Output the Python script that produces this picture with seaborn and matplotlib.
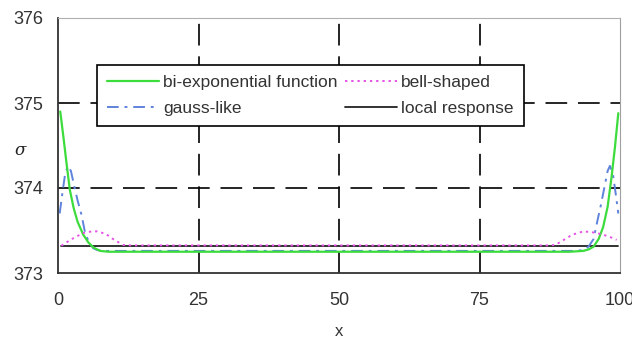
import numpy as np
import pandas as pd
import matplotlib
matplotlib.use("Agg")
import matplotlib.pyplot as plt
import seaborn as sns

# --- values ---
x_biexp = [0.4, 1.0, 1.5, 2.1, 2.8, 3.5, 4.5, 5.4, 6.3, 7.5, 9.0, 12.0, 50.0,
           88.0, 91.0, 93.5, 94.5, 95.3, 96.2, 97.0, 97.8, 98.5, 99.1, 99.7]
y_biexp = [374.90, 374.58, 374.30, 373.98, 373.76, 373.60, 373.45, 373.36, 373.30, 373.26, 373.25, 373.25, 373.25,
           373.25, 373.25, 373.26, 373.28, 373.31, 373.40, 373.54, 373.78, 374.13, 374.48, 374.88]

x_gauss = [0.3, 0.8, 1.3, 1.8, 2.3, 2.9, 3.5, 4.2, 4.8, 5.5, 6.3, 7.0, 8.0, 12.0, 50.0,
           88.0, 92.0, 93.5, 94.4, 95.3, 96.0, 96.6, 97.2, 97.8, 98.2, 98.7, 99.2, 99.7]
y_gauss = [373.70, 373.95, 374.18, 374.26, 374.20, 374.02, 373.85, 373.68, 373.48, 373.36, 373.29, 373.27, 373.26, 373.26, 373.26,
           373.26, 373.26, 373.27, 373.31, 373.40, 373.62, 373.80, 374.00, 374.20, 374.26, 374.18, 373.95, 373.70]

x_bell = [0.6, 1.5, 3.0, 4.5, 6.0, 7.0, 8.5, 10.0, 11.6, 13.0, 50.0,
          87.0, 88.5, 90.0, 91.5, 93.5, 95.0, 96.5, 98.0, 99.4]
y_bell = [373.32, 373.36, 373.42, 373.47, 373.49, 373.49, 373.46, 373.39, 373.33, 373.325, 373.325,
          373.325, 373.33, 373.39, 373.45, 373.49, 373.48, 373.46, 373.43, 373.39]

x_local = [0.6, 99.7]
y_local = [373.315, 373.315]

labels = ["bi-exponential function", "gauss-like", "bell-shaped", "local response"]
x_ticks = [0, 25, 50, 75, 100]
y_ticks = [373, 374, 375, 376]

sns.set_style("white")
plt.rcParams["font.family"] = ["Liberation Sans", "DejaVu Sans"]

fig = plt.figure(figsize=(6.32, 3.40), dpi=100)
ax = fig.add_axes([58 / 632, 67 / 340, 562 / 632, 255 / 340])

# grid (long dashes)
for xv in x_ticks[1:-1]:
    ax.axvline(xv, color="black", lw=1.2, ls=(0, (13, 6.5)), zorder=1)
for yv in y_ticks[1:-1]:
    ax.axhline(yv, color="black", lw=1.2, ls=(0, (13, 6.5)), zorder=1)

sns.lineplot(x=x_local, y=y_local, ax=ax, color="#222222", lw=1.3, label=labels[3], zorder=3)
sns.lineplot(x=x_gauss, y=y_gauss, ax=ax, color="#5f83dc", lw=1.4, label=labels[1], zorder=4)
ax.lines[-1].set_dashes((6, 3, 1.5, 3))
sns.lineplot(x=x_biexp, y=y_biexp, ax=ax, color="#3ddc3d", lw=1.6, label=labels[0], zorder=5)
sns.lineplot(x=x_bell, y=y_bell, ax=ax, color="#e653e6", lw=1.4, label=labels[2], zorder=6)
ax.lines[-1].set_dashes((1.2, 2))

ax.set_xlim(0, 100)
ax.set_ylim(373, 376)
ax.set_xticks(x_ticks)
ax.set_yticks(y_ticks)
ax.tick_params(axis="both", direction="inout", length=8, width=1.2, colors="#333333", labelsize=13)
ax.tick_params(axis="x", pad=10)
ax.tick_params(axis="y", pad=6.5)

for side in ["left", "bottom"]:
    ax.spines[side].set_color("#333333")
    ax.spines[side].set_linewidth(1.3)
ax.spines["top"].set_color("#b0b0b0")
ax.spines["right"].set_color("#a0a0a0")

ax.set_xlabel("x", fontsize=12, color="#333333")
ax.xaxis.set_label_coords(0.5, -0.2)
ax.set_ylabel("σ", fontsize=12, rotation=0, style="italic", family=["DejaVu Serif"],
              color="#222222", ha="center", va="center")
ax.yaxis.set_label_coords(-0.068, 0.48)

# legend in the reference order (two columns)
handles, labs = ax.get_legend_handles_labels()
order = [labs.index(l) for l in labels]
leg = ax.legend([handles[i] for i in order], [labs[i] for i in order], ncol=2,
                loc="upper left", bbox_to_anchor=(0.069, 0.816), fontsize=12.5,
                frameon=True, fancybox=False, framealpha=1, edgecolor="black",
                handlelength=3.0, handletextpad=0.2, columnspacing=0.45,
                labelspacing=0.6, borderpad=0.6, borderaxespad=0)
leg.get_frame().set_linewidth(1.2)
for t in leg.get_texts():
    t.set_color("#333333")

fig.savefig("out.png", dpi=100)
